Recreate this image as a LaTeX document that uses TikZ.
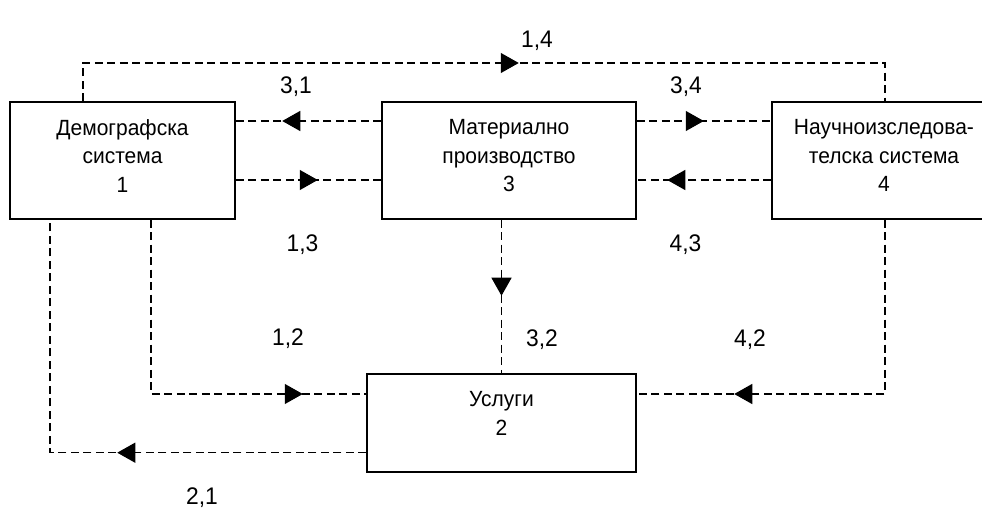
\documentclass[tikz,border=0pt]{standalone}
\usepackage{fontspec}
\setmainfont{Liberation Sans}
\newfontfamily\boxfont[FakeStretch=0.955]{Liberation Sans}
\newfontfamily\labelfont[FakeStretch=0.95]{Liberation Sans}
\usetikzlibrary{arrows.meta,decorations.markings}

\tikzset{
  sysbox/.style={draw, line width=1.5pt, minimum width=#1, inner sep=0pt},
  boxtext/.style={anchor=north, align=center, inner sep=0pt,
    font=\boxfont\fontsize{22}{28.5}\selectfont},
  flowlabel/.style={anchor=base, inner sep=0pt,
    font=\labelfont\fontsize{24}{27}\selectfont},
  flow/.style={dash pattern=on 8pt off 4.5pt, line width=1.2pt,
    postaction={decorate, decoration={markings,
      mark=at position #1 with {\arrow{Triangle[length=18pt,width=20pt]}}}}}
}

\begin{document}
\begin{tikzpicture}[x=1pt, y=-1pt]
\useasboundingbox (0,0) rectangle (982,510);

% the four subsystems
\node[sysbox=225pt, minimum height=117pt] (b1) at (122.5,160.5) {};
\node[sysbox=254pt, minimum height=117pt] (b3) at (509,160.5) {};
\node[sysbox=224pt, minimum height=117pt] (b4) at (884,160.5) {};
\node[sysbox=269pt, minimum height=98pt]  (b2) at (501.5,423) {};

\node[boxtext] (t1) at ([yshift=-18pt]b1.north) {Демографска\\система\\1};
\node[boxtext] (t3) at ([yshift=-18pt]b3.north) {Материално\\производство\\3};
\node[boxtext] (t4) at ([yshift=-18pt]b4.north) {Научноизследова-\\телска система\\4};
\node[boxtext] (t2) at ([yshift=-18pt]b2.north) {Услуги\\2};

% routing points
\coordinate (k14a) at (83,63);
\coordinate (k14b) at (885,63);
\coordinate (rowA) at (0,121);
\coordinate (rowB) at (0,180);
\coordinate (k12) at (151,394);
\coordinate (k42) at (885,394);
\coordinate (k21) at (50,452.7);

% flows between subsystems
\draw[flow=474pt] (b1.north -| k14a) -- (k14a) -- (k14b) -- (b4.north -| k14b);
\draw[flow=99pt]  (b3.west |- rowA) -- (b1.east |- rowA);
\draw[flow=82pt]  (b1.east |- rowB) -- (b3.west |- rowB);
\draw[flow=67pt]  (b3.east |- rowA) -- (b4.west |- rowA);
\draw[flow=104pt] (b4.west |- rowB) -- (b3.east |- rowB);
\draw[flow=76pt]  (b2.north |- b3.south) -- (b2.north);
\draw[flow=326pt] (b1.south -| k12) -- (k12) -- (b2.west |- k12);
\draw[flow=325pt] (b4.south -| k42) -- (k42) -- (b2.east |- k42);
\draw[flow=249pt] (b2.west |- k21) -- (k21) -- (b1.south -| k21);

% flow labels
\node[flowlabel] (l14) at (537,48)    {1,4};
\node[flowlabel] (l31) at (296,94)    {3,1};
\node[flowlabel] (l34) at (686,93.5)  {3,4};
\node[flowlabel] (l13) at (302.5,252) {1,3};
\node[flowlabel] (l43) at (685.5,252) {4,3};
\node[flowlabel] (l12) at (288,345)   {1,2};
\node[flowlabel] (l32) at (542,346)   {3,2};
\node[flowlabel] (l42) at (750,346)   {4,2};
\node[flowlabel] (l21) at (202,504)   {2,1};
\end{tikzpicture}
\end{document}
